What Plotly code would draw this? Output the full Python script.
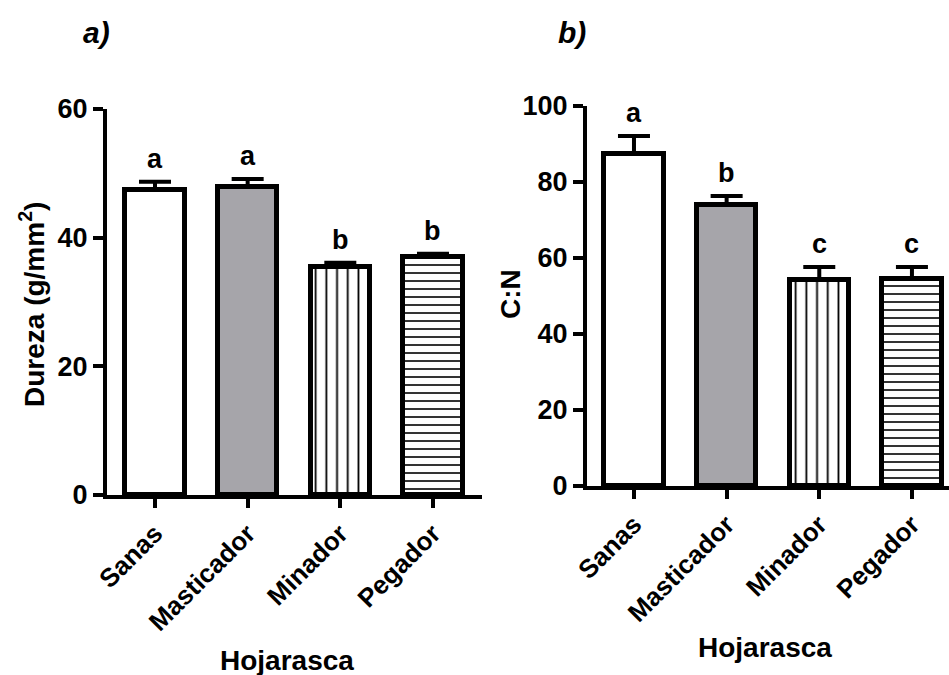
import plotly.graph_objects as go

categories = ["Sanas", "Masticador", "Minador", "Pegador"]
dureza = [47.4, 47.9, 35.5, 37.0]
dureza_err = [1.3, 1.2, 0.6, 0.5]
dureza_letters = ["a", "a", "b", "b"]
cn = [87.4, 74.0, 54.2, 54.5]
cn_err = [4.7, 2.3, 3.4, 3.1]
cn_letters = ["a", "b", "c", "c"]
y1_ticks = [0, 20, 40, 60]
y2_ticks = [0, 20, 40, 60, 80, 100]

FONT = "Liberation Sans, Arial, sans-serif"
fills = ["white", "#a6a5aa", "white", "white"]
patterns = [dict(shape=""), dict(shape=""),
            dict(shape="|", size=10.7, solidity=0.17, fgcolor="black", bgcolor="white", fillmode="replace"),
            dict(shape="-", size=8, solidity=0.2, fgcolor="black", bgcolor="white", fillmode="replace")]

fig = go.Figure()
xs = list(range(len(categories)))

def add_panel(vals, errs, xa, ya):
    for i in xs:
        fig.add_trace(go.Bar(
            x=[i], y=[vals[i]], width=0.64,
            marker=dict(color=fills[i], line=dict(color="black", width=5), pattern=patterns[i]),
            error_y=dict(type="data", symmetric=False, array=[errs[i]], arrayminus=[0],
                         color="black", thickness=4, width=16),
            xaxis=xa, yaxis=ya, showlegend=False, hoverinfo="skip"))

add_panel(dureza, dureza_err, "x", "y")
add_panel(cn, cn_err, "x2", "y2")

letter_font = dict(family=FONT, size=27, color="black", weight="bold")
annotations = []
for i in xs:
    annotations.append(dict(x=i, y=dureza[i] + dureza_err[i], xref="x", yref="y",
                            text=dureza_letters[i], showarrow=False, xanchor="center",
                            yanchor="bottom", yshift=6, font=letter_font))
    annotations.append(dict(x=i, y=cn[i] + cn_err[i], xref="x2", yref="y2",
                            text=cn_letters[i], showarrow=False, xanchor="center",
                            yanchor="bottom", yshift=6, font=letter_font))

title_font = dict(family=FONT, size=28, color="black", weight="bold")
panel_font = dict(family=FONT, size=30, color="black", weight="bold")

def paper_text(px, py, text, font, angle=0):
    return dict(x=px / 949, y=1 - py / 675, xref="paper", yref="paper", text=text,
                textangle=angle, showarrow=False, xanchor="center", yanchor="middle", font=font)

annotations += [
    paper_text(32, 305, "Dureza (g/mm<sup>2</sup>)", title_font, -90),
    paper_text(511, 294, "C:N", title_font, -90),
    paper_text(287, 660, "Hojarasca", title_font),
    paper_text(765, 647, "Hojarasca", title_font),
    paper_text(96, 32, "<i>a)</i>", panel_font),
    paper_text(572, 32, "<i>b)</i>", panel_font),
]

xtick_font = dict(family=FONT, size=26, color="black", weight="bold")
ytick_font = dict(family=FONT, size=27, color="black", weight="bold")
xaxis_common = dict(tickmode="array", tickvals=xs, ticktext=categories, tickangle=-45,
                    ticks="outside", ticklen=9, tickwidth=3.5, tickcolor="black",
                    showline=True, linecolor="black", linewidth=4, showgrid=False,
                    zeroline=False, tickfont=xtick_font, automargin=False)
yaxis_common = dict(ticks="outside", ticklen=10, tickwidth=3.5, tickcolor="black",
                    showline=True, linecolor="black", linewidth=4, showgrid=False,
                    zeroline=False, tickfont=ytick_font, tickmode="array", automargin=False)

fig.update_layout(
    width=949, height=675, margin=dict(l=0, r=0, t=0, b=0, pad=0, autoexpand=False),
    paper_bgcolor="white", plot_bgcolor="white",
    bargap=0,
    xaxis=dict(domain=[107 / 949, 482 / 949], range=[-0.518, 3.529], anchor="y", **xaxis_common),
    yaxis=dict(domain=[1 - 495 / 675, 1 - 109 / 675], range=[0, 60], tickvals=y1_ticks, anchor="x", **yaxis_common),
    xaxis2=dict(domain=[587 / 949, 1.0], range=[-0.507, 3.40], anchor="y2", **xaxis_common),
    yaxis2=dict(domain=[1 - 486 / 675, 1 - 106 / 675], range=[0, 100], tickvals=y2_ticks, anchor="x2", **yaxis_common),
    annotations=annotations,
)

fig.write_html("out.html")
